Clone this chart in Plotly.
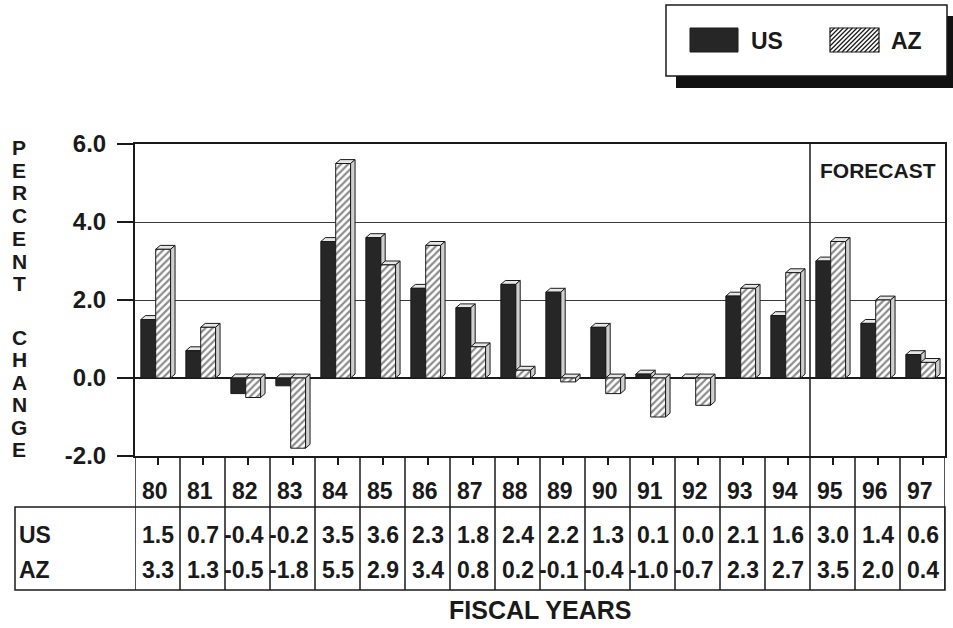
import plotly.graph_objects as go

# Fiscal years and annual percent change
years = ["80", "81", "82", "83", "84", "85", "86", "87", "88",
         "89", "90", "91", "92", "93", "94", "95", "96", "97"]
us_change = [1.5, 0.7, -0.4, -0.2, 3.5, 3.6, 2.3, 1.8, 2.4,
             2.2, 1.3, 0.1, 0.0, 2.1, 1.6, 3.0, 1.4, 0.6]
az_change = [3.3, 1.3, -0.5, -1.8, 5.5, 2.9, 3.4, 0.8, 0.2,
             -0.1, -0.4, -1.0, -0.7, 2.3, 2.7, 3.5, 2.0, 0.4]
y_ticks = [-2.0, 0.0, 2.0, 4.0, 6.0]
forecast_start = "95"

W, H = 953, 628
FONT = "Liberation Sans, Arial, sans-serif"
INK = "#1a1a1a"


def px(x):
    return x / W


def py(y):
    return 1 - y / H


# plot area in pixels
PL, PR, PT, PB = 135, 945, 144, 456

xs = list(range(len(years)))
BAR_W = 0.33
US_OFF, AZ_OFF = -0.37, -0.04
DX, DY = 0.10, 0.10  # depth of the bevelled top/side faces (data units)

fig = go.Figure()
fig.add_bar(
    x=xs, y=us_change, name="US", width=BAR_W, offset=US_OFF,
    marker=dict(color="#262626", line=dict(color=INK, width=1)),
)
fig.add_bar(
    x=xs, y=az_change, name="AZ", width=BAR_W, offset=AZ_OFF,
    marker=dict(color="white",
                pattern=dict(shape="/", fgcolor=INK, bgcolor="white",
                             size=5, solidity=0.45),
                line=dict(color=INK, width=1)),
)

shapes = []
# 3-D faces behind each bar
for off, vals in ((US_OFF, us_change), (AZ_OFF, az_change)):
    for i, v in zip(xs, vals):
        x0 = i + off
        x1 = x0 + BAR_W
        top, bot = max(v, 0), min(v, 0)
        shapes.append(dict(
            type="path", xref="x", yref="y", layer="between",
            path=f"M {x0},{top} L {x1},{top} L {x1+DX},{top+DY} L {x0+DX},{top+DY} Z",
            fillcolor="#e6e6e6", line=dict(color=INK, width=1)))
        shapes.append(dict(
            type="path", xref="x", yref="y", layer="between",
            path=f"M {x1},{bot} L {x1+DX},{bot+DY} L {x1+DX},{top+DY} L {x1},{top} Z",
            fillcolor="#cfcfcf", line=dict(color=INK, width=1)))

# forecast divider
fx = years.index(forecast_start) - 0.5
shapes.append(dict(type="line", xref="x", yref="y domain", x0=fx, x1=fx, y0=0, y1=1,
                   line=dict(color=INK, width=1.5), layer="above"))

# table under the chart: category dividers and outer box
for b in range(len(years) + 1):
    xb = b - 0.5
    shapes.append(dict(type="line", xref="x", yref="paper", x0=xb, x1=xb,
                       y0=py(PB), y1=py(590), line=dict(color=INK, width=1.5)))
shapes.append(dict(type="rect", xref="paper", yref="paper",
                   x0=px(15), x1=px(PR), y0=py(590), y1=py(507),
                   line=dict(color=INK, width=1.5)))

# legend box with drop shadow
shapes.append(dict(type="rect", xref="paper", yref="paper",
                   x0=px(676), x1=px(953), y0=py(88), y1=py(16),
                   fillcolor="#111", line=dict(width=0)))
shapes.append(dict(type="rect", xref="paper", yref="paper",
                   x0=px(666), x1=px(947), y0=py(76), y1=py(5),
                   fillcolor="white", line=dict(color=INK, width=1.5)))
shapes.append(dict(type="rect", xref="paper", yref="paper",
                   x0=px(690), x1=px(738), y0=py(52), y1=py(28),
                   fillcolor="#262626", line=dict(color=INK, width=1)))
shapes.append(dict(type="rect", xref="paper", yref="paper",
                   x0=px(830), x1=px(879), y0=py(52), y1=py(28),
                   fillcolor="white", line=dict(color=INK, width=1.2)))
# hatching inside the AZ swatch
sx0, sx1, sy0, sy1 = 830, 879, 28, 52
hgt = sy1 - sy0
start = sx0 - hgt
while start < sx1:
    t0 = max(0, sx0 - start)
    t1 = min(hgt, sx1 - start)
    if t1 > t0:
        shapes.append(dict(type="line", xref="paper", yref="paper",
                           x0=px(start + t0), y0=py(sy1 - t0),
                           x1=px(start + t1), y1=py(sy1 - t1),
                           line=dict(color=INK, width=1.3)))
    start += 4.5

annotations = []
bold = dict(family=FONT, color=INK, weight="bold")

# year row and value rows
for i, yr in enumerate(years):
    annotations.append(dict(xref="x", yref="paper", x=i - 0.06, y=py(491),
                            text=yr, showarrow=False, xanchor="center", yanchor="middle",
                            font=dict(size=23, **bold)))
for label, vals, yc in (("US", us_change, 535), ("AZ", az_change, 570)):
    annotations.append(dict(xref="paper", yref="paper", x=px(17), y=py(yc),
                            text=label, showarrow=False, xanchor="left", yanchor="middle",
                            font=dict(size=23, **bold)))
    for i, v in enumerate(vals):
        annotations.append(dict(xref="x", yref="paper", x=i + 0.40, y=py(yc),
                                text=f"{v:.1f}", showarrow=False,
                                xanchor="right", yanchor="middle",
                                font=dict(size=23, **bold)))

# stacked y-axis title
for k, ch in enumerate("PERCENT"):
    annotations.append(dict(xref="paper", yref="paper", x=px(19), y=py(147 + 22.7 * k),
                            text=ch, showarrow=False, xanchor="center", yanchor="middle",
                            height=20, font=dict(size=21, **bold)))
for k, ch in enumerate("CHANGE"):
    annotations.append(dict(xref="paper", yref="paper", x=px(19), y=py(337 + 22.4 * k),
                            text=ch, showarrow=False, xanchor="center", yanchor="middle",
                            height=20, font=dict(size=21, **bold)))

annotations += [
    dict(xref="paper", yref="paper", x=px(540), y=py(610), text="FISCAL YEARS",
         showarrow=False, xanchor="center", yanchor="middle", font=dict(size=25, **bold)),
    dict(xref="paper", yref="paper", x=px(938), y=py(170), text="FORECAST",
         showarrow=False, xanchor="right", yanchor="middle", font=dict(size=21, **bold)),
    dict(xref="paper", yref="paper", x=px(749), y=py(41), text="US",
         showarrow=False, xanchor="left", yanchor="middle", font=dict(size=23, **bold)),
    dict(xref="paper", yref="paper", x=px(889), y=py(41), text="AZ",
         showarrow=False, xanchor="left", yanchor="middle", font=dict(size=23, **bold)),
]

fig.update_layout(
    width=W, height=H,
    margin=dict(l=0, r=0, t=0, b=0, pad=0, autoexpand=False),
    paper_bgcolor="white", plot_bgcolor="white",
    barmode="overlay", showlegend=False,
    shapes=shapes, annotations=annotations,
    xaxis=dict(domain=[px(PL), px(PR)], range=[-0.5, len(years) - 0.5],
               tickvals=xs, showticklabels=False, ticks="outside", ticklen=7,
               tickwidth=1.5, tickcolor=INK, showgrid=False, zeroline=False,
               automargin=False,
               showline=True, mirror=True, linecolor=INK, linewidth=2, fixedrange=True),
    yaxis=dict(domain=[py(PB), py(PT)], range=[-2, 6],
               tickvals=y_ticks, ticktext=[f"{t:.1f}" for t in y_ticks],
               ticks="outside", ticklen=16, tickwidth=1.5, tickcolor=INK,
               ticklabelstandoff=6, tickfont=dict(size=24, **bold),
               showgrid=True, gridcolor="#3a3a3a", gridwidth=1.3,
               zeroline=True, zerolinecolor=INK, zerolinewidth=1.8,
               automargin=False,
               showline=True, mirror=True, linecolor=INK, linewidth=2, fixedrange=True),
)

fig.write_html("out.html")
